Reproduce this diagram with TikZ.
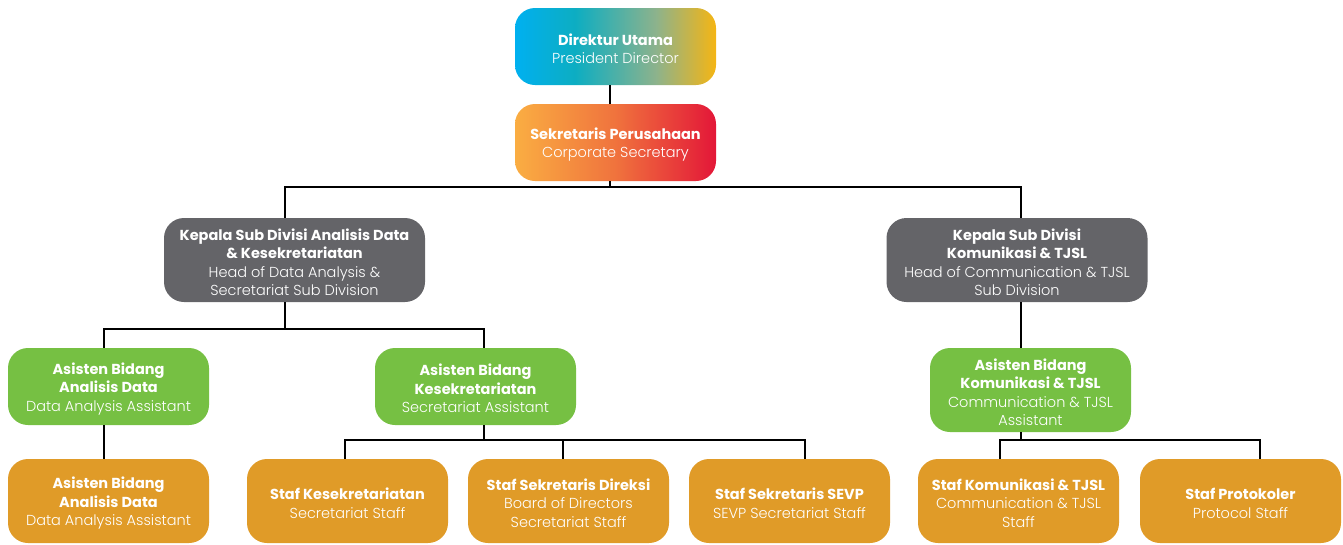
\documentclass[tikz,border=0pt]{standalone}
\usepackage{fontspec}
\setmainfont{Poppins}
\newfontfamily\lightfont{Poppins Light}
\definecolor{boxgray}{RGB}{100,100,104}
\definecolor{boxgreen}{RGB}{118,192,67}
\definecolor{boxorange}{RGB}{224,155,40}
\pgfdeclarehorizontalshading{dirshade}{100bp}{%
  rgb(0bp)=(0,0.69,0.94);
  rgb(25bp)=(0,0.69,0.94);
  rgb(40bp)=(0.05,0.68,0.76);
  rgb(60bp)=(0.55,0.70,0.55);
  rgb(75bp)=(0.96,0.71,0.08);
  rgb(100bp)=(0.96,0.71,0.08)}
\pgfdeclarehorizontalshading{secshade}{100bp}{%
  rgb(0bp)=(0.98,0.68,0.26);
  rgb(25bp)=(0.98,0.68,0.26);
  rgb(50bp)=(0.94,0.45,0.24);
  rgb(75bp)=(0.89,0.09,0.22);
  rgb(100bp)=(0.89,0.09,0.22)}
% each line of a card carries its own font switch;
% the first line gets a tall strut so the text block sits a little lower
\newcommand{\cardfirst}{\bfseries\rule{0pt}{16pt}}
\newcommand{\cardhead}{\bfseries}
\newcommand{\cardsub}{\lightfont}
\begin{document}
\begin{tikzpicture}[x=1pt,y=-1pt,
  every node/.style={inner sep=0pt},
  card/.style={rounded corners=20pt, text=white, align=center,
    font=\fontsize{14.5}{18.5}\selectfont, minimum width=201pt, minimum height=77pt},
  tall/.style={minimum height=84pt},
  wide/.style={minimum width=261pt},
  gray card/.style={card, wide, tall, fill=boxgray},
  green card/.style={card, fill=boxgreen},
  orange card/.style={card, tall, fill=boxorange},
  link/.style={draw=black, line width=2pt}]
\useasboundingbox (0,0) rectangle (1343,544);

% top of the chart
\node[card, shading=dirshade] (du) at (615.5,46.5)
  {\cardfirst Direktur Utama\\\cardsub President Director};
\node[card, shading=secshade] (sp) at (615.5,142.5)
  {\cardfirst Sekretaris Perusahaan\\\cardsub Corporate Secretary};

% sub division heads
\node[gray card] (k1) at (294.5,260)
  {\cardfirst Kepala Sub Divisi Analisis Data\\\cardhead \& Kesekretariatan\\\cardsub Head of Data Analysis \&\\\cardsub Secretariat Sub Division};
\node[gray card] (k2) at (1017,260)
  {\cardfirst Kepala Sub Divisi\\\cardhead Komunikasi \& TJSL\\\cardsub Head of Communication \& TJSL\\\cardsub Sub Division};

% assistants
\node[green card] (a1) at (108.5,386.5)
  {\cardfirst Asisten Bidang\\\cardhead Analisis Data\\\cardsub Data Analysis Assistant};
\node[green card] (a2) at (475.5,386.5)
  {\cardfirst Asisten Bidang\\\cardhead Kesekretariatan\\\cardsub Secretariat Assistant};
\node[green card, tall] (a3) at (1030.5,390)
  {\cardfirst Asisten Bidang\\\cardhead Komunikasi \& TJSL\\\cardsub Communication \& TJSL\\\cardsub Assistant};

% staff
\node[orange card] (s1) at (108.5,501)
  {\cardfirst Asisten Bidang\\\cardhead Analisis Data\\\cardsub Data Analysis Assistant};
\node[orange card] (s2) at (347.5,501)
  {\cardfirst Staf Kesekretariatan\\\cardsub Secretariat Staff};
\node[orange card] (s3) at (568.5,501)
  {\cardfirst Staf Sekretaris Direksi\\\cardsub Board of Directors\\\cardsub Secretariat Staff};
\node[orange card] (s4) at (789.5,501)
  {\cardfirst Staf Sekretaris SEVP\\\cardsub SEVP Secretariat Staff};
\node[orange card] (s5) at (1018.5,501)
  {\cardfirst Staf Komunikasi \& TJSL\\\cardsub Communication \& TJSL\\\cardsub Staff};
\node[orange card] (s6) at (1240.5,501)
  {\cardfirst Staf Protokoler\\\cardsub Protocol Staff};

% connectors
\draw[link] ([xshift=-6pt]du.south) -- ([xshift=-6pt]sp.north);
\draw[link] ([xshift=-6pt]sp.south) -- ++(0,6) coordinate (b1);
\draw[link] ([xshift=-9.5pt]k1.north) |- (b1) -| ([xshift=4pt]k2.north);

\draw[link] ([xshift=-9.5pt]k1.south) -- ++(0,27) coordinate (b2);
\draw[link] ([xshift=-4.5pt]a1.north) |- (b2) -| ([xshift=8.5pt]a2.north);
\draw[link] ([xshift=-4.5pt]a1.south) -- ([xshift=-4.5pt]s1.north);

\draw[link] ([xshift=8.5pt]a2.south) -- ++(0,15) coordinate (b3);
\draw[link] ([xshift=-2.5pt]s2.north) |- (b3) -| ([xshift=15.5pt]s4.north);
\draw[link] ([xshift=-5.5pt]s3.north) |- (b3);

\draw[link] ([xshift=4pt]k2.south) -- ([xshift=-9.5pt]a3.north);
\draw[link] ([xshift=-9.5pt]a3.south) -- ++(0,8) coordinate (b4);
\draw[link] ([xshift=-18.5pt]s5.north) |- (b4) -| ([xshift=19.5pt]s6.north);
\end{tikzpicture}
\end{document}
